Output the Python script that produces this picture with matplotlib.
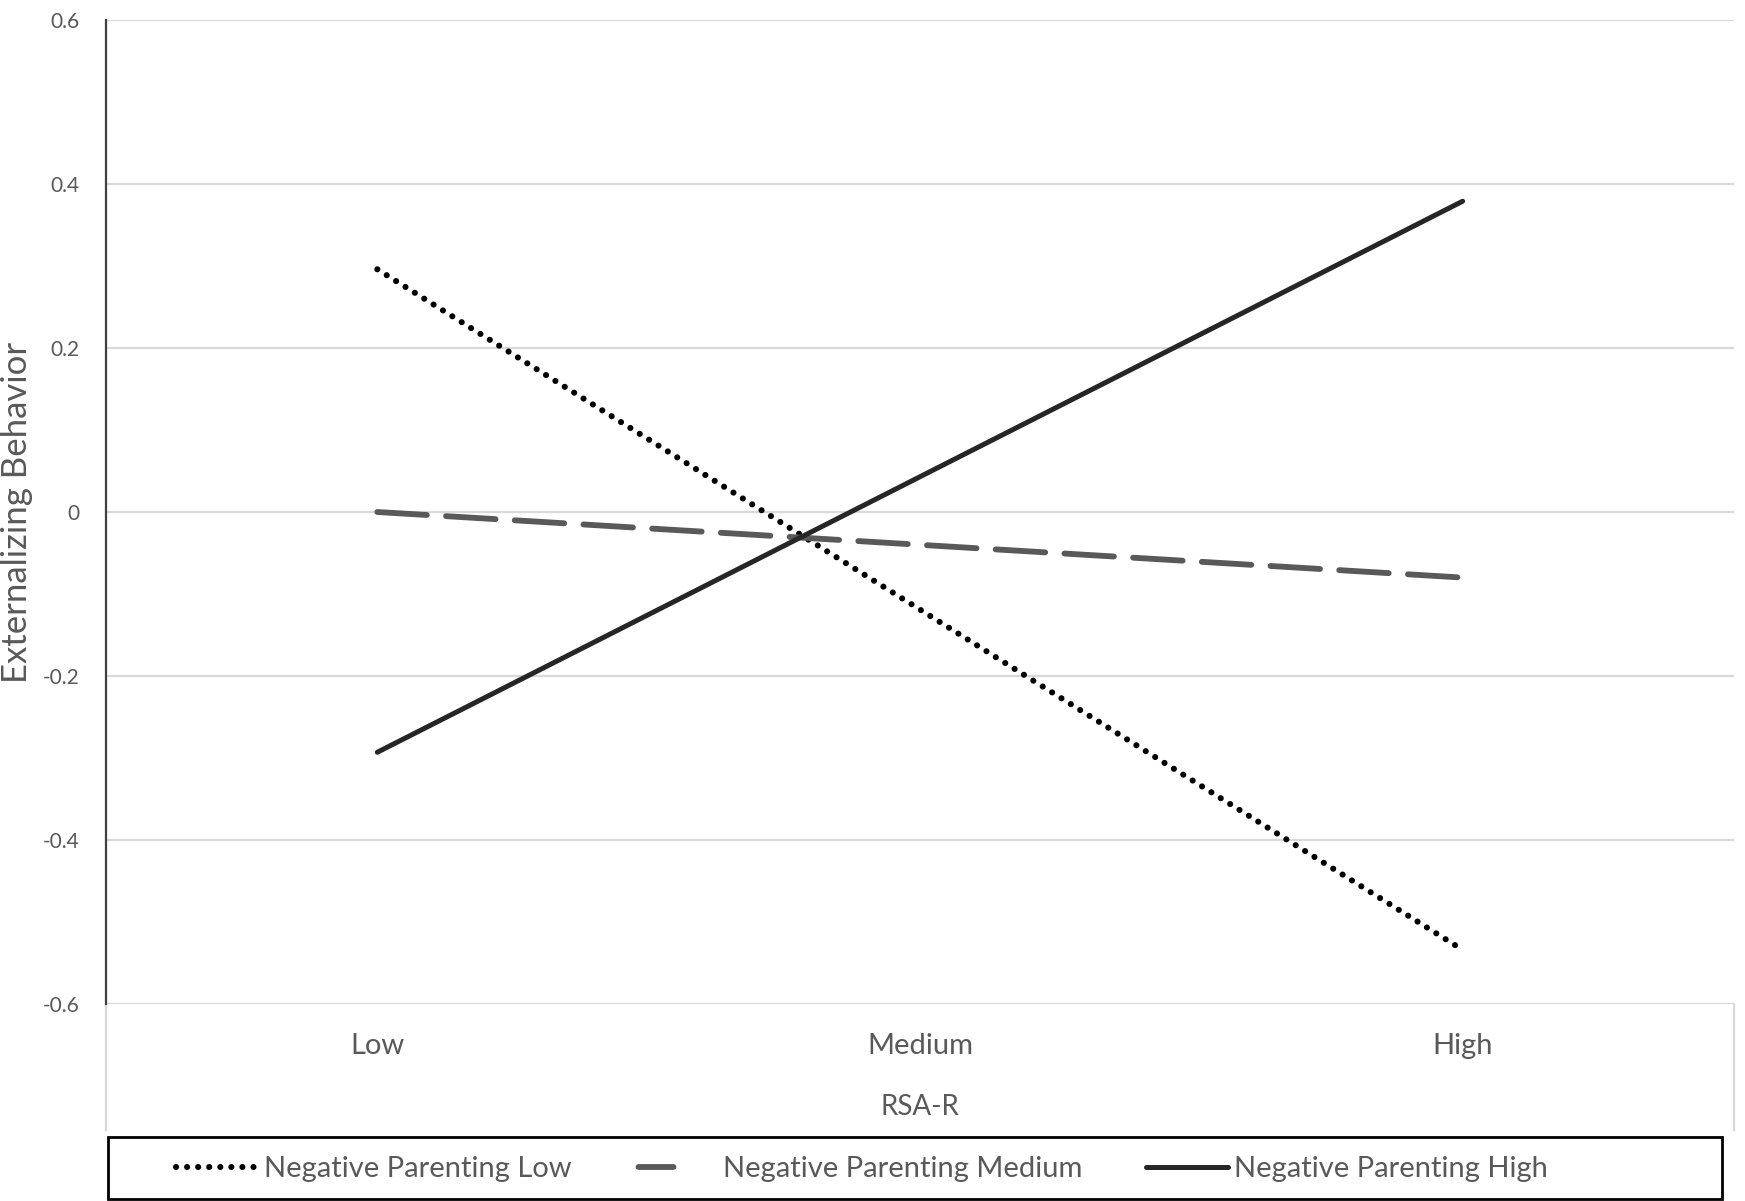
import matplotlib
matplotlib.use("Agg")
import matplotlib.pyplot as plt
from matplotlib.patches import Rectangle
from matplotlib.lines import Line2D

plt.rcParams['font.family'] = ['Lato', 'DejaVu Sans']

# data
categories = ["Low", "Medium", "High"]
series_names = ["Negative Parenting Low", "Negative Parenting Medium", "Negative Parenting High"]
np_low = [0.296, -0.119, -0.534]
np_medium = [0.0, -0.040, -0.080]
np_high = [-0.293, 0.043, 0.379]
yticks = [-0.6, -0.4, -0.2, 0, 0.2, 0.4, 0.6]
ytick_labels = ["-0.6", "-0.4", "-0.2", "0", "0.2", "0.4", "0.6"]

txt = "#595959"
W, H = 1745, 1201
fig = plt.figure(figsize=(W / 100, H / 100), dpi=100)
ax = fig.add_axes([106 / W, 1 - 1004 / H, (1734 - 106) / W, (1004 - 20) / H])

x = range(len(categories))
l1, = ax.plot(x, np_low, color="black", lw=4.4, linestyle=(0, (0.01, 1.8)),
              dash_capstyle="round", label=series_names[0])
ax.plot(x, np_medium, color="#595959", lw=4.2, linestyle=(0, (8.5, 3.3)),
        dash_capstyle="round", label=series_names[1])
l3, = ax.plot(x, np_high, color="#262626", lw=3.6, solid_capstyle="round",
              label=series_names[2])

ax.set_xlim(-0.5, 2.5)
ax.set_ylim(-0.6, 0.6)
ax.set_yticks(yticks)
ax.set_yticklabels(ytick_labels)
ax.set_xticks(list(x))
ax.set_xticklabels(categories)
ax.grid(axis="y", color="#d9d9d9", lw=1.6)
ax.set_axisbelow(True)
ax.tick_params(axis="y", length=0, pad=19, labelsize=15, labelcolor=txt)
ax.tick_params(axis="x", length=0, pad=21, labelsize=21, labelcolor=txt)

for s in ["top", "right", "bottom"]:
    ax.spines[s].set_visible(False)
ax.spines["left"].set_color("#404040")
ax.spines["left"].set_linewidth(1.6)

# light frame of the category axis area
for xa in [0, 1]:
    ax.add_line(Line2D([xa, xa], [0, -0.128], transform=ax.transAxes,
                       color="#d9d9d9", lw=1.6, clip_on=False))

ax.set_xlabel("RSA-R", fontsize=20, color=txt, va="center")
ax.xaxis.set_label_coords(0.5, -0.105)
ax.set_ylabel("Externalizing Behavior", fontsize=25, color=txt, va="center")
ax.yaxis.set_label_coords(-0.0547, 0.5)

# legend box
fig.add_artist(Rectangle((108 / W, 1 - 1199 / H), (1722 - 108) / W, (1199 - 1137) / H,
                         transform=fig.transFigure, fill=False, edgecolor="black", lw=2))
# the dashed entry shows a single dash, as in the original
dash_handle = Line2D([], [], color="#595959", lw=4.2, linestyle=(-0.6, (6.0, 20)),
                     dash_capstyle="round")
fig.legend([l1, dash_handle, l3], series_names, loc="center", ncol=3, frameon=False,
           bbox_to_anchor=(862 / W, 1 - 1169 / H), fontsize=21, labelcolor=txt,
           handlelength=2.8, handletextpad=0.2, columnspacing=2.2)

fig.savefig("out.png", dpi=100, facecolor="white")
